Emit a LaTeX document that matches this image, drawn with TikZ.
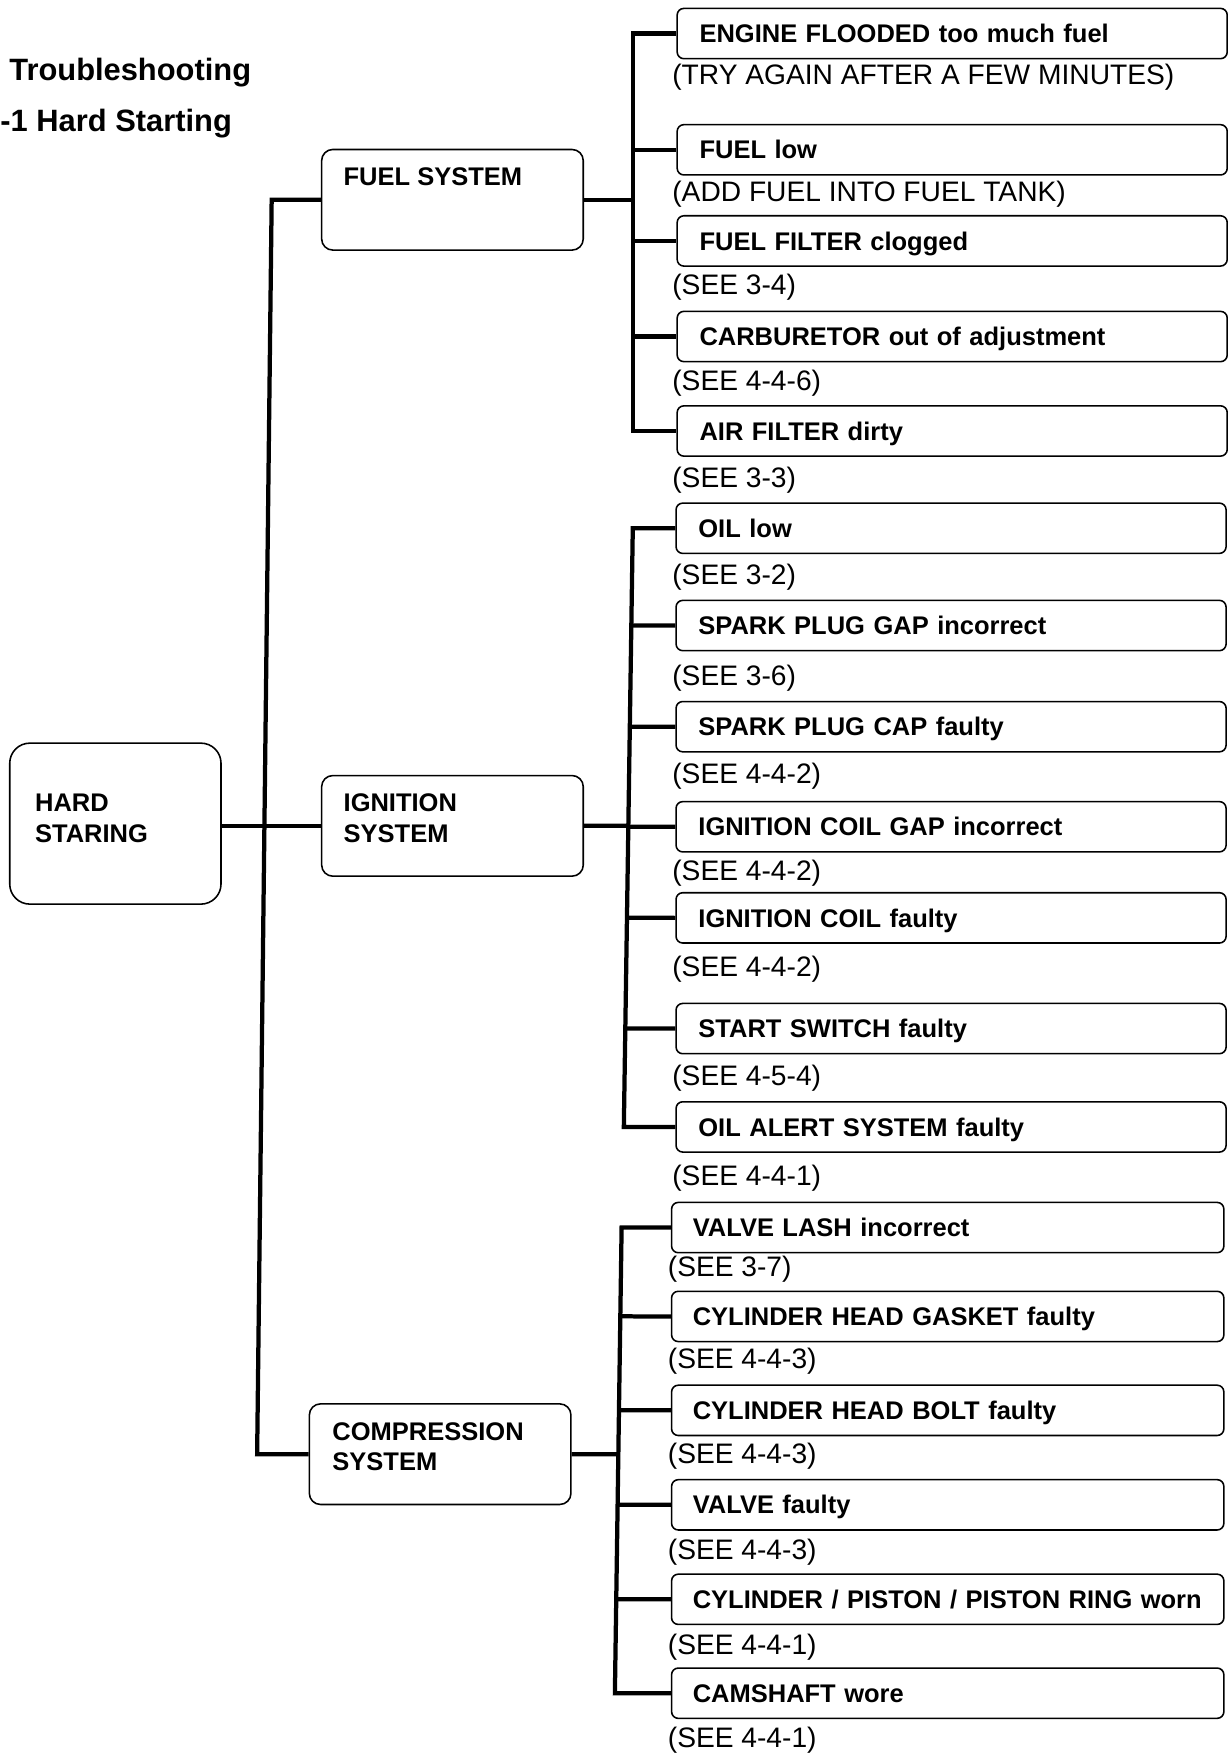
\documentclass[tikz,border=0pt]{standalone}
\usepackage{fontspec}
\setmainfont{Liberation Sans}
\begin{document}
\begin{tikzpicture}[x=0.5pt,y=-0.5pt,
  conn/.style={line width=1.9pt},
  itembox/.style={draw, line width=0.7pt, rounded corners=3pt, minimum width=246pt,
    minimum height=22.5pt, anchor=west, inner xsep=10pt, inner ysep=0pt, text width=226pt, align=left,
    font=\bfseries\fontsize{11.4}{13}\selectfont, text height=8.2pt, text depth=0pt},
  compbox/.style={itembox, minimum width=247pt, inner xsep=9.5pt, text width=228pt},
  note/.style={anchor=west, inner sep=0pt, font=\fontsize{12.6}{14}\selectfont,
    text height=9pt, text depth=0pt},
  sysbox/.style={draw, line width=0.7pt, rounded corners=5pt, minimum width=117pt,
    minimum height=45pt, anchor=north west, inner sep=0pt},
  syslbl/.style={anchor=west, inner sep=0pt, align=left,
    font=\bfseries\fontsize{11.4}{13.8}\selectfont},
  title/.style={anchor=west, inner sep=0pt, font=\bfseries\fontsize{13.8}{16}\selectfont,
    text height=9.9pt, text depth=0pt}
]
\useasboundingbox (0,0) rectangle (1098,1568);

% titles
\node[title] (t1) at (8,62) {Troubleshooting};
\node[title] (t2) at (0,108) {-1 Hard Starting};

% main boxes
\node[sysbox, rounded corners=9pt, minimum width=94.5pt, minimum height=72pt] (hs) at (8,664) {};
\node[syslbl] (hsl) at (31,732) {HARD\\STARING};
\node[sysbox] (fs) at (287,133) {};
\node[syslbl] (fsl) at (307,158) {FUEL SYSTEM};
\node[sysbox] (is) at (287,693) {};
\node[syslbl] (isl) at (307,732) {IGNITION\\SYSTEM};
\node[sysbox] (cs) at (276,1255) {};
\node[syslbl] (csl) at (297,1294) {COMPRESSION\\SYSTEM};

% fuel items
\node[itembox] (f1) at (605,30) {ENGINE FLOODED too much fuel};
\node[itembox] (f2) at (605,134) {FUEL low};
\node[itembox] (f3) at (605,215.5) {FUEL FILTER clogged};
\node[itembox] (f4) at (605,301) {CARBURETOR out of adjustment};
\node[itembox] (f5) at (605,385.5) {AIR FILTER dirty};
\node[note] (fn1) at (601,67) {(TRY AGAIN AFTER A FEW MINUTES)};
\node[note] (fn2) at (601,171) {(ADD FUEL INTO FUEL TANK)};
\node[note] (fn3) at (601,254) {(SEE 3-4)};
\node[note] (fn4) at (601,340) {(SEE 4-4-6)};
\node[note] (fn5) at (601,427) {(SEE 3-3)};

% ignition items
\node[itembox] (i1) at (604,472.5) {OIL low};
\node[itembox] (i2) at (604,559.5) {SPARK PLUG GAP incorrect};
\node[itembox] (i3) at (604,650) {SPARK PLUG CAP faulty};
\node[itembox] (i4) at (604,739.5) {IGNITION COIL GAP incorrect};
\node[itembox] (i5) at (604,821) {IGNITION COIL faulty};
\node[itembox] (i6) at (604,920) {START SWITCH faulty};
\node[itembox] (i7) at (604,1008) {OIL ALERT SYSTEM faulty};
\node[note] (in1) at (601,514) {(SEE 3-2)};
\node[note] (in2) at (601,604) {(SEE 3-6)};
\node[note] (in3) at (601,692) {(SEE 4-4-2)};
\node[note] (in4) at (601,779) {(SEE 4-4-2)};
\node[note] (in5) at (601,864) {(SEE 4-4-2)};
\node[note] (in6) at (601,962) {(SEE 4-5-4)};
\node[note] (in7) at (601,1051) {(SEE 4-4-1)};

% compression items
\node[compbox] (c1) at (600,1098) {VALVE LASH incorrect};
\node[compbox] (c2) at (600,1177.5) {CYLINDER HEAD GASKET faulty};
\node[compbox] (c3) at (600,1261.5) {CYLINDER HEAD BOLT faulty};
\node[compbox] (c4) at (600,1346) {VALVE faulty};
\node[compbox] (c5) at (600,1430.5) {\mbox{CYLINDER / PISTON / PISTON RING worn}};
\node[compbox] (c6) at (600,1514.5) {CAMSHAFT wore};
\node[note] (cn1) at (597,1133) {(SEE 3-7)};
\node[note] (cn2) at (597,1215) {(SEE 4-4-3)};
\node[note] (cn3) at (597,1300) {(SEE 4-4-3)};
\node[note] (cn4) at (597,1386) {(SEE 4-4-3)};
\node[note] (cn5) at (597,1471) {(SEE 4-4-1)};
\node[note] (cn6) at (597,1554) {(SEE 4-4-1)};

% trunk
\coordinate (tT) at (243,177.5);
\coordinate (tB) at (230,1300);
\draw[conn] (fs.west) -- (fs.west -| tT) -- (cs.west -| tB) -- (cs.west);
\draw[conn] (hs.east |- is.west) -- (is.west);

% fuel bus
\coordinate (fb) at (566,0);
\draw[conn] (f1.west) -- (f1.west -| fb) -- (f5.west -| fb) -- (f5.west);
\foreach \n in {f2,f3,f4} \draw[conn] (\n.west -| fb) -- (\n.west);
\draw[conn] (fs.east) -- (fs.east -| fb);

% ignition bus
\coordinate (ibT) at (566,472.5);
\coordinate (ibB) at (558,1008);
\draw[conn] (i1.west) -- (ibT) -- (ibB) -- (i7.west);
\foreach \n in {i2,i3,i4,i5,i6}
  \draw[conn] (intersection of ibT--ibB and \n.west--\n.east) -- (\n.west);
\draw[conn] (is.east) -- (intersection of ibT--ibB and is.west--is.east);

% compression bus
\coordinate (cbT) at (556,1098);
\coordinate (cbB) at (550,1514.5);
\draw[conn] (c1.west) -- (cbT) -- (cbB) -- (c6.west);
\foreach \n in {c2,c3,c4,c5}
  \draw[conn] (intersection of cbT--cbB and \n.west--\n.east) -- (\n.west);
\draw[conn] (cs.east) -- (intersection of cbT--cbB and cs.west--cs.east);
\end{tikzpicture}
\end{document}
